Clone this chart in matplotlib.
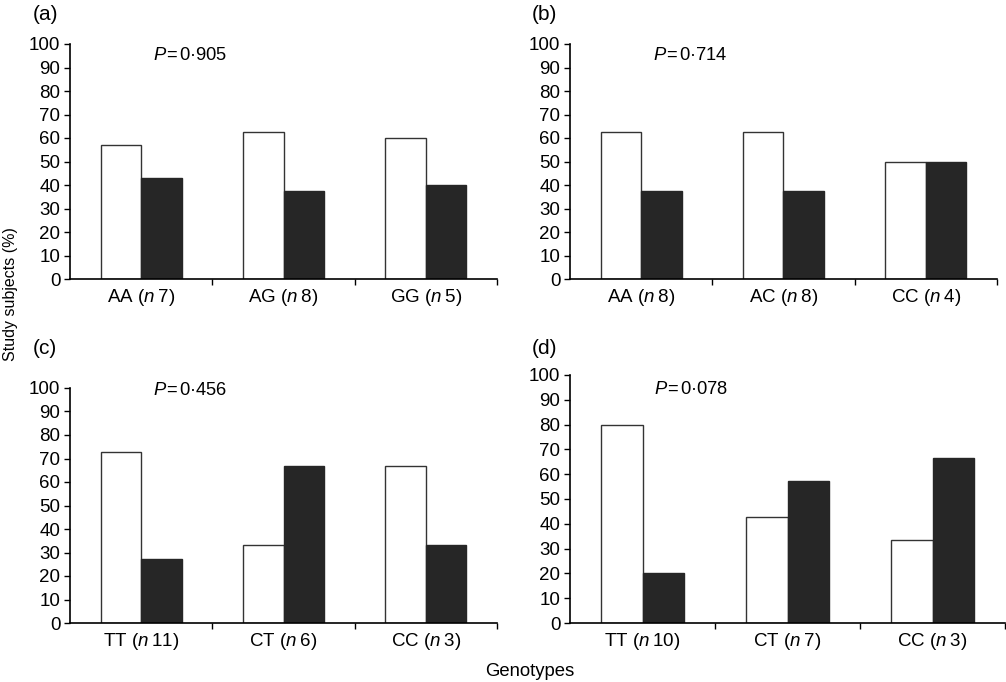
import matplotlib.pyplot as plt
import numpy as np

plt.rcParams['font.family'] = ['Liberation Sans', 'DejaVu Sans']
plt.rcParams['mathtext.fontset'] = 'custom'
plt.rcParams['mathtext.rm'] = 'Liberation Sans'
plt.rcParams['mathtext.it'] = 'Liberation Sans:italic'

# Données par panneau
genotypes_a = ["AA", "AG", "GG"]
n_a = [7, 8, 5]
white_a = [57.1, 62.5, 60.0]
black_a = [42.9, 37.5, 40.0]
p_a = "0·905"

genotypes_b = ["AA", "AC", "CC"]
n_b = [8, 8, 4]
white_b = [62.5, 62.5, 50.0]
black_b = [37.5, 37.5, 50.0]
p_b = "0·714"

genotypes_c = ["TT", "CT", "CC"]
n_c = [11, 6, 3]
white_c = [72.7, 33.3, 66.7]
black_c = [27.3, 66.7, 33.3]
p_c = "0·456"

genotypes_d = ["TT", "CT", "CC"]
n_d = [10, 7, 3]
white_d = [80.0, 42.9, 33.3]
black_d = [20.0, 57.1, 66.7]
p_d = "0·078"

W, H = 1006, 682
fig = plt.figure(figsize=(W / 100, H / 100), dpi=100)


def px_axes(left, right, top, bottom):
    return fig.add_axes([left / W, 1 - bottom / H, (right - left) / W, (bottom - top) / H])


def draw_panel(ax, genos, ns, white, black, pval, p_y):
    x = np.arange(len(genos))
    w = 0.285
    ax.bar(x - w / 2, white, w, color="white", edgecolor="#333333", linewidth=1.0)
    ax.bar(x + w / 2, black, w, color="#262626", edgecolor="#262626", linewidth=1.0)
    ax.set_xlim(-0.5, len(genos) - 0.5)
    ax.set_ylim(0, 100)
    ax.set_yticks(range(0, 101, 10))
    ax.set_xticks(x)
    ax.set_xticklabels([f"{g} ($n$\u2009{n})" for g, n in zip(genos, ns)])
    ax.set_xticks(np.arange(0.5, len(genos), 1.0), minor=True)
    ax.tick_params(axis="x", which="major", length=0, pad=6, labelsize=13.5)
    ax.tick_params(axis="x", which="minor", length=4, width=1.0, direction="out")
    ax.tick_params(axis="y", length=4, width=1.0, pad=3, labelsize=13.5)
    for s in ["top", "right"]:
        ax.spines[s].set_visible(False)
    for s in ["left", "bottom"]:
        ax.spines[s].set_linewidth(1.2)
    ax.text(0.08, p_y, f"$P$\u200a=\u200a{pval}", fontsize=13.2, va="center", ha="left")


ax_a = px_axes(70, 497, 44, 279)
ax_b = px_axes(570, 997, 44, 279)
ax_c = px_axes(70, 497, 388, 623)
ax_d = px_axes(570, 1005, 375, 623)

draw_panel(ax_a, genotypes_a, n_a, white_a, black_a, p_a, 95)
draw_panel(ax_b, genotypes_b, n_b, white_b, black_b, p_b, 95)
draw_panel(ax_c, genotypes_c, n_c, white_c, black_c, p_c, 99)
draw_panel(ax_d, genotypes_d, n_d, white_d, black_d, p_d, 94)

fig.text(33 / W, 1 - 15 / H, "(a)", fontsize=15, va="center", ha="left")
fig.text(532 / W, 1 - 15 / H, "(b)", fontsize=15, va="center", ha="left")
fig.text(33 / W, 1 - 348 / H, "(c)", fontsize=15, va="center", ha="left")
fig.text(532 / W, 1 - 348 / H, "(d)", fontsize=15, va="center", ha="left")

fig.text(11 / W, 1 - 294 / H, "Study subjects (%)", rotation=90, fontsize=11.5, va="center", ha="center")
fig.text(530 / W, 1 - 671 / H, "Genotypes", fontsize=13.3, va="center", ha="center")

fig.savefig("out.png", dpi=100)
